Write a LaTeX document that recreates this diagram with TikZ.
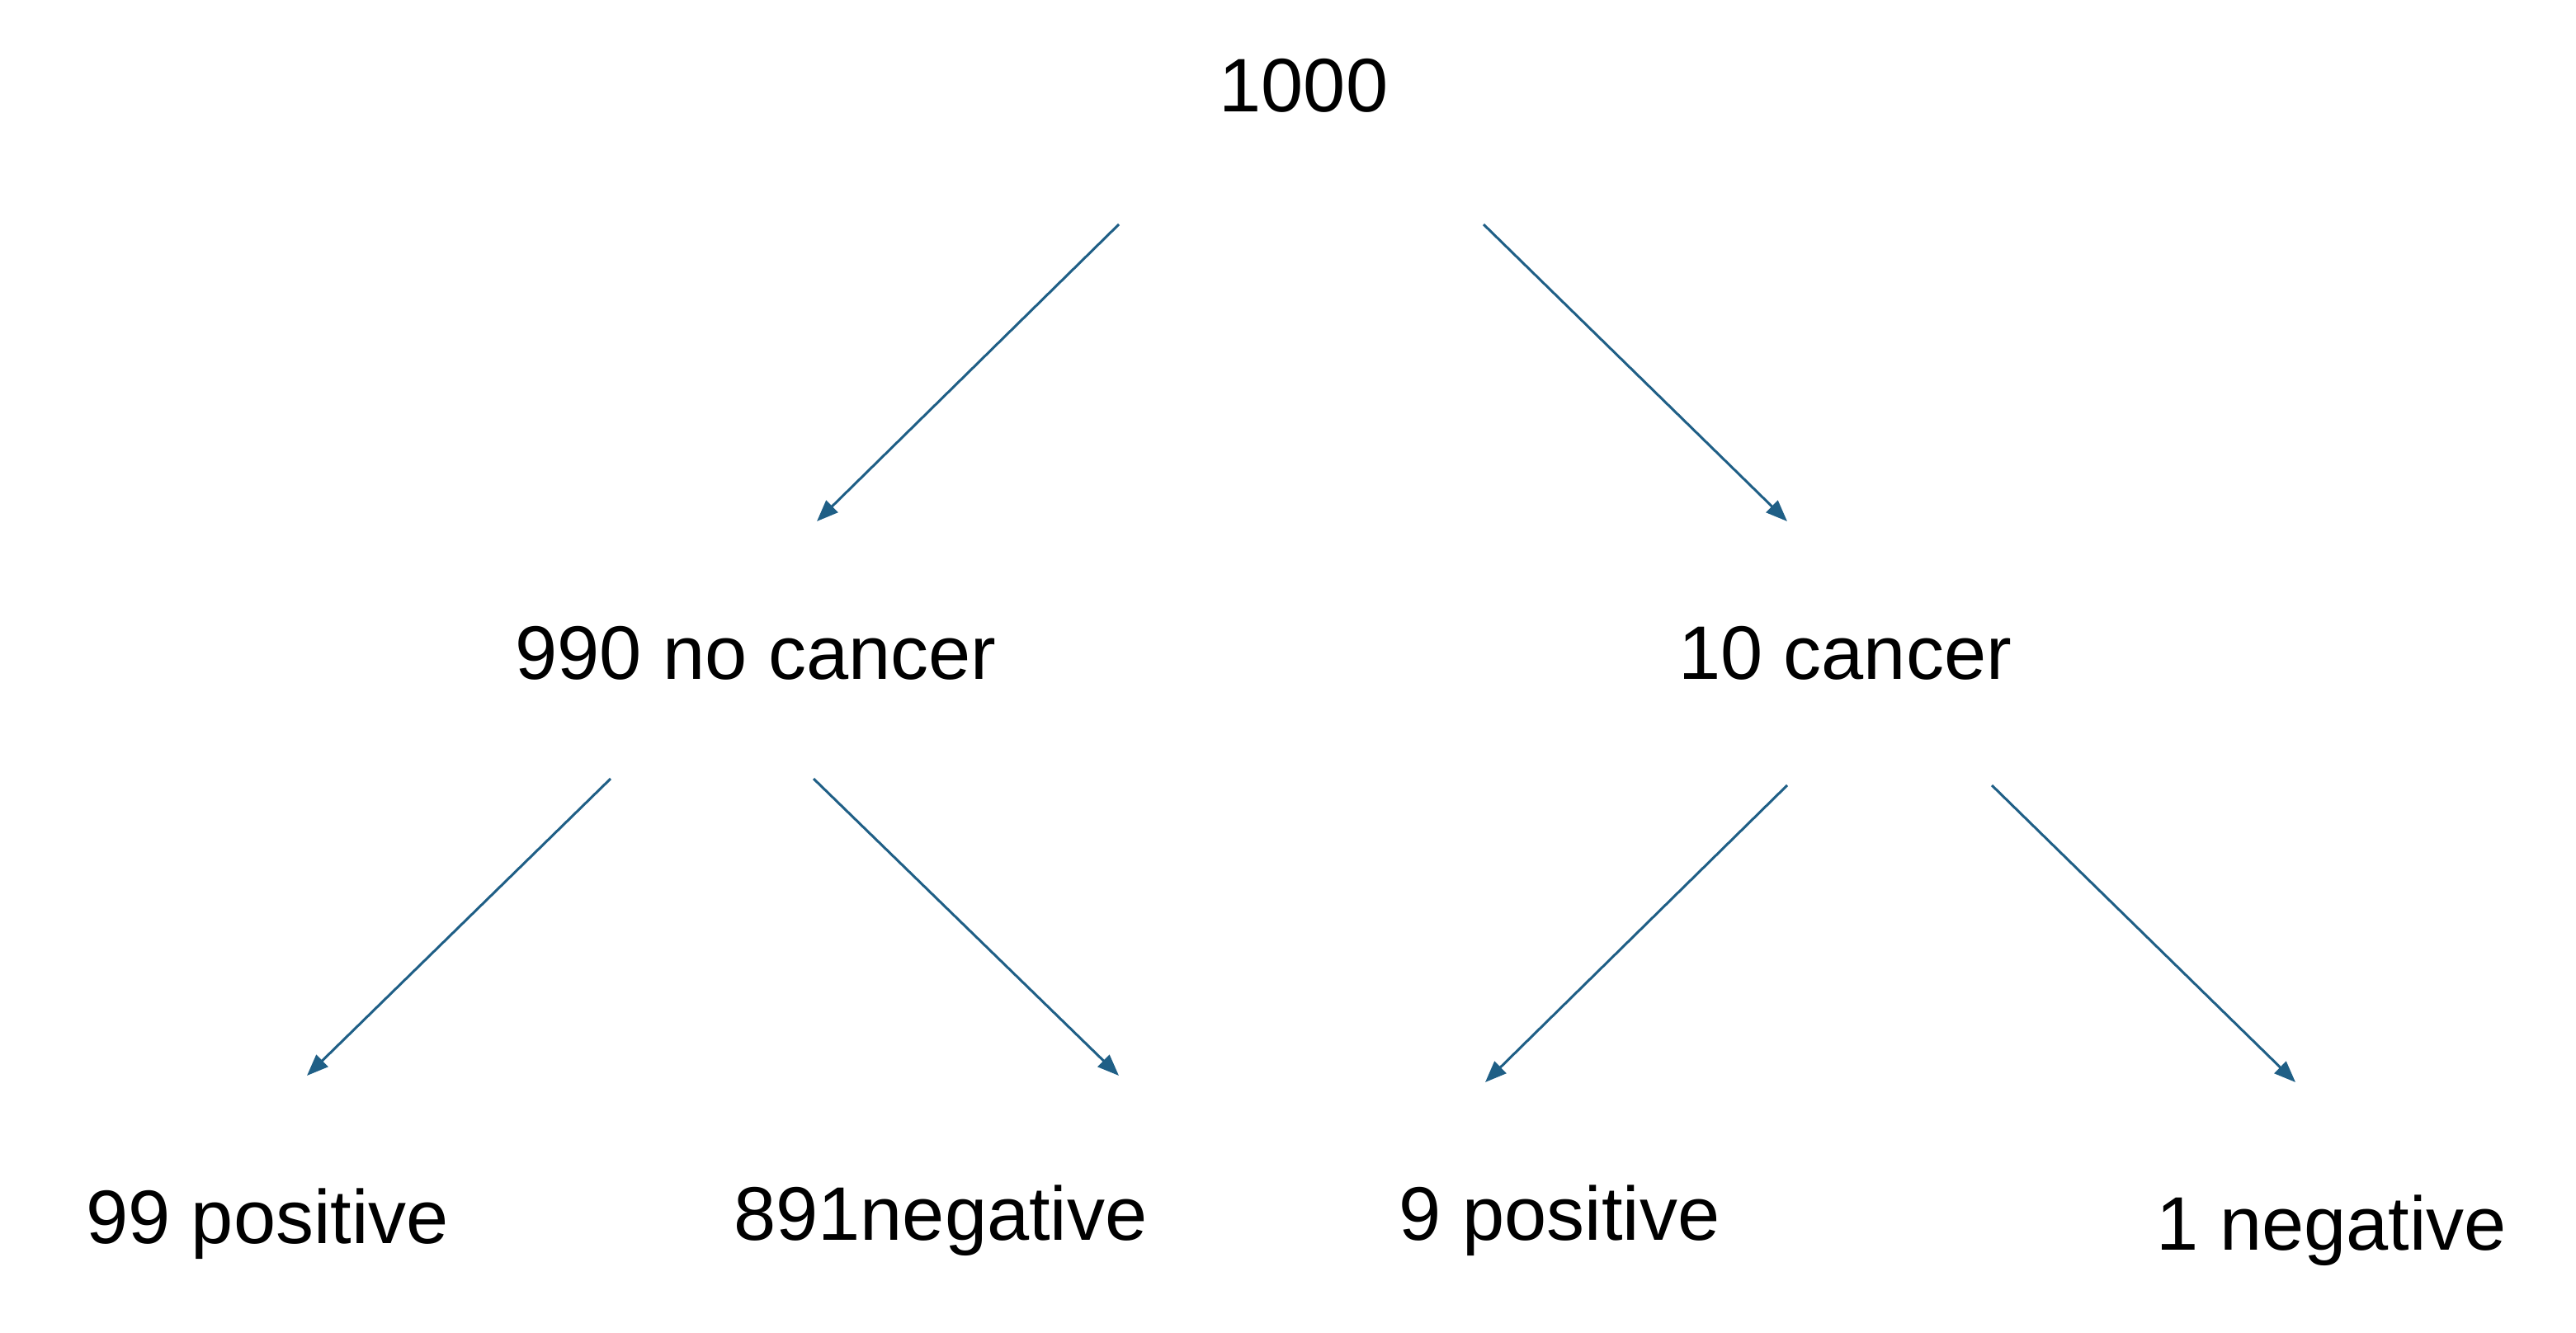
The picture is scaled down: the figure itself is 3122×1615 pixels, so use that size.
\documentclass[tikz,border=0pt]{standalone}
\usepackage{fontspec}
\setmainfont{Liberation Sans}
\usetikzlibrary{arrows.meta}
\begin{document}
\begin{tikzpicture}[x=1pt,y=-1pt,
  lbl/.style={font=\fontsize{92}{100}\selectfont,text=black,inner sep=0pt},
  arr/.style={draw={rgb,255:red,31;green,95;blue,134},line width=3pt,-{Triangle[length=26pt,width=20pt]}}]
\useasboundingbox[fill=white] (0,0) rectangle (3122,1615);
\node[lbl] (root) at (1580,104) {1000};
\node[lbl] (nc) at (916,792) {990 no cancer};
\node[lbl] (c) at (2236,792) {10 cancer};
\node[lbl] (a) at (324,1484) {99 positive};
\node[lbl] (b) at (1140,1480) {891negative};
\node[lbl] (d) at (1890,1480) {9 positive};
\node[lbl] (e) at (2826,1492) {1 negative};
\coordinate (s1) at (1356,272); \coordinate (t1) at (990,632);
\coordinate (s2) at (1798,272); \coordinate (t2) at (2166,632);
\coordinate (s3) at (740,944); \coordinate (t3) at (372,1304);
\coordinate (s4) at (986,944); \coordinate (t4) at (1356,1304);
\coordinate (s5) at (2166,952); \coordinate (t5) at (1800,1312);
\coordinate (s6) at (2414,952); \coordinate (t6) at (2782,1312);
\draw[arr] (s1) -- (t1);
\draw[arr] (s2) -- (t2);
\draw[arr] (s3) -- (t3);
\draw[arr] (s4) -- (t4);
\draw[arr] (s5) -- (t5);
\draw[arr] (s6) -- (t6);
\end{tikzpicture}
\end{document}
